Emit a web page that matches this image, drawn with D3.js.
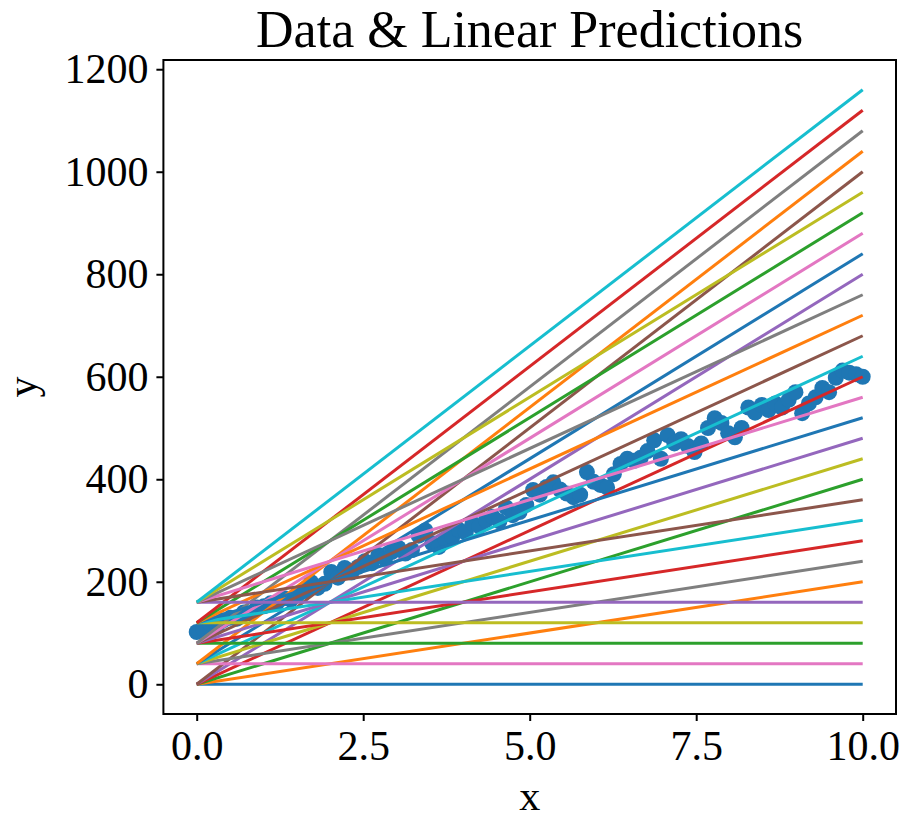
<!DOCTYPE html>
<html>
<head>
<meta charset="utf-8">
<script src="https://cdn.jsdelivr.net/npm/d3@7"></script>
<style>
  html, body { margin: 0; padding: 0; background: #fff; }
  svg { display: block; }
  text { font-family: "Liberation Serif", "Times New Roman", serif; fill: #000; }
</style>
</head>
<body>
<svg id="chart" width="904" height="822"></svg>
<script>
// ---- data ----
const intercepts = [0, 40, 80, 120, 160];
const slopes = [0, 20, 40, 60, 80, 100];
const dataX = [0, 0.101, 0.202, 0.303, 0.404, 0.505, 0.606, 0.707, 0.808, 0.909,
  1.010, 1.111, 1.212, 1.313, 1.414, 1.515, 1.616, 1.717, 1.818, 1.919,
  2.020, 2.121, 2.222, 2.323, 2.424, 2.525, 2.626, 2.727, 2.828, 2.929,
  3.030, 3.131, 3.232, 3.333, 3.434, 3.535, 3.636, 3.737, 3.838, 3.939,
  4.040, 4.141, 4.242, 4.343, 4.444, 4.545, 4.646, 4.747, 4.848, 4.949,
  5.051, 5.152, 5.253, 5.354, 5.455, 5.556, 5.657, 5.758, 5.859, 5.960,
  6.061, 6.162, 6.263, 6.364, 6.465, 6.566, 6.667, 6.768, 6.869, 6.970,
  7.071, 7.172, 7.273, 7.374, 7.475, 7.576, 7.677, 7.778, 7.879, 7.980,
  8.081, 8.182, 8.283, 8.384, 8.485, 8.586, 8.687, 8.788, 8.889, 8.990,
  9.091, 9.192, 9.293, 9.394, 9.495, 9.596, 9.697, 9.798, 9.899, 10.0];
const dataY = [102, 108, 118, 112, 125, 130, 128, 140, 138, 150,
  152, 158, 160, 168, 165, 175, 182, 199, 188, 196,
  219, 208, 227, 218, 229, 240, 236, 252, 245, 258,
  266, 255, 262, 290, 300, 275, 268, 282, 288, 301,
  296, 314, 308, 320, 327, 318, 345, 330, 336, 350,
  379, 370, 385, 394, 380, 372, 365, 370, 414, 395,
  389, 384, 410, 430, 440, 436, 442, 455, 476, 440,
  486, 470, 478, 465, 453, 470, 500, 519, 510, 490,
  482, 500, 540, 530, 545, 535, 548, 540, 555, 570,
  529, 548, 560, 578, 570, 598, 612, 608, 605, 600];
const xTicks = [0, 2.5, 5, 7.5, 10];
const yTicks = [0, 200, 400, 600, 800, 1000, 1200];
const colors = ['#1f77b4','#ff7f0e','#2ca02c','#d62728','#9467bd','#8c564b','#e377c2','#7f7f7f','#bcbd22','#17becf'];

// ---- layout ----
const L = 163.4, R = 896, T = 60, B = 714;
const svg = d3.select("#chart");
const x = d3.scaleLinear().domain([-0.5, 10.5]).range([L, R]);
const y = d3.scaleLinear().domain([-58, 1218]).range([B, T]);

const plot = svg.append("g");

// scatter (drawn below lines)
plot.append("g").selectAll("circle")
  .data(dataX.map((d, i) => [d, dataY[i]]))
  .join("circle")
  .attr("cx", d => x(d[0]))
  .attr("cy", d => y(d[1]))
  .attr("r", 8)
  .attr("fill", "#1f77b4");

// prediction lines
const xMin = d3.min(dataX), xMax = d3.max(dataX);
const lines = [];
intercepts.forEach((b, bi) => {
  slopes.forEach((w, wi) => {
    lines.push({ b, w, k: bi * slopes.length + wi });
  });
});
const lineGen = d3.line().x(d => x(d[0])).y(d => y(d[1]));
plot.append("g").selectAll("path")
  .data(lines)
  .join("path")
  .attr("d", d => lineGen([[xMin, d.b + d.w * xMin], [xMax, d.b + d.w * xMax]]))
  .attr("fill", "none")
  .attr("stroke", d => colors[d.k % 10])
  .attr("stroke-width", 3);

// frame
svg.append("rect")
  .attr("x", L).attr("y", T).attr("width", R - L).attr("height", B - T)
  .attr("fill", "none").attr("stroke", "#000").attr("stroke-width", 2);

// axes
const xAxis = svg.append("g").attr("transform", `translate(0,${B})`)
  .call(d3.axisBottom(x).tickValues(xTicks).tickFormat(d3.format(".1f")).tickSize(7).tickPadding(9));
const yAxis = svg.append("g").attr("transform", `translate(${L},0)`)
  .call(d3.axisLeft(y).tickValues(yTicks).tickFormat(d3.format("d")).tickSize(7).tickPadding(8));
[xAxis, yAxis].forEach(a => {
  a.select(".domain").remove();
  a.selectAll(".tick line").attr("stroke", "#000").attr("stroke-width", 2);
  a.selectAll(".tick text")
    .style("font-family", '"Liberation Serif", "Times New Roman", serif')
    .style("font-size", "42px").attr("fill", "#000");
});

// title and labels
svg.append("text").attr("x", (L + R) / 2).attr("y", 47)
  .attr("text-anchor", "middle").style("font-size", "52px")
  .text("Data & Linear Predictions");
svg.append("text").attr("x", (L + R) / 2).attr("y", 810)
  .attr("text-anchor", "middle").style("font-size", "42px")
  .text("x");
svg.append("text").attr("transform", `translate(36,${(T + B) / 2}) rotate(-90)`)
  .attr("text-anchor", "middle").style("font-size", "42px")
  .text("y");
</script>
</body>
</html>
